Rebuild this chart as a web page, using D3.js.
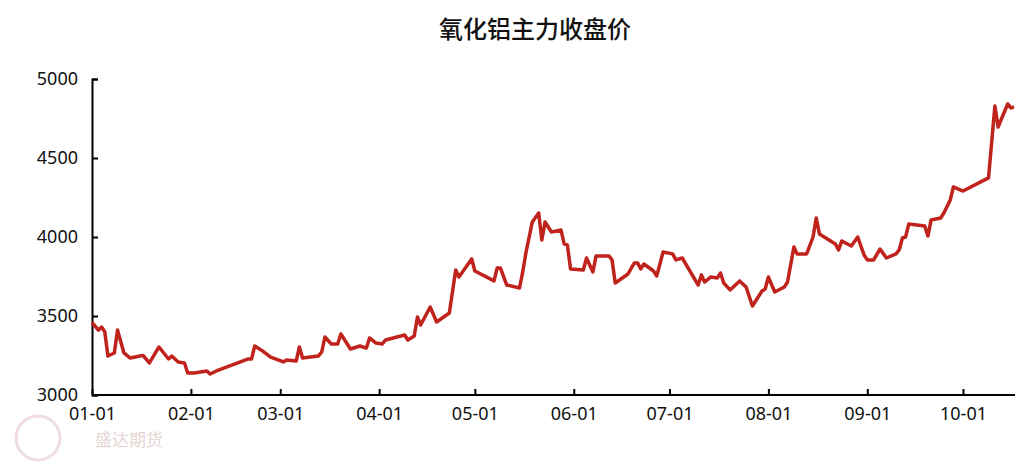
<!DOCTYPE html>
<html><head><meta charset="utf-8">
<script src="https://cdn.jsdelivr.net/npm/d3@7"></script>
<style>body{margin:0;background:#fff}text{font-family:"Noto Sans CJK SC","Noto Sans",sans-serif}</style>
</head><body><svg id="c" width="1026" height="471"></svg>
<script>
// 氧化铝主力收盘价
var dates = ["01-01","01-03","01-04","01-05","01-06","01-08","01-09","01-11","01-13","01-16","01-17","01-19","01-22","01-25","01-26","01-28","01-30","01-31",
"02-02","02-06","02-07","02-09","02-19","02-20","02-21","02-23","02-26","03-02","03-03","03-06","03-07","03-08","03-13","03-14","03-15","03-17","03-19","03-20","03-23","03-26","03-28","03-29","03-31",
"04-02","04-03","04-09","04-10","04-12","04-13","04-14","04-17","04-19","04-23","04-25","04-26","04-30","05-01","05-07","05-08","05-09","05-11","05-15","05-16","05-17","05-19","05-21","05-22","05-23","05-25","05-28","05-29","05-30","05-31",
"06-04","06-05","06-07","06-08","06-12","06-13","06-14","06-18","06-20","06-21","06-22","06-23","06-26","06-27","06-29",
"07-02","07-03","07-05","07-10","07-11","07-12","07-14","07-16","07-17","07-18","07-20","07-23","07-25","07-27","07-30","07-31",
"08-01","08-03","08-06","08-07","08-09","08-10","08-13","08-15","08-16","08-17","08-21","08-22","08-23","08-24","08-27","08-29","08-31",
"09-01","09-03","09-05","09-07","09-10","09-11","09-12","09-13","09-14","09-19","09-20","09-21","09-24","09-25","09-27","09-28",
"10-01","10-09","10-11","10-12","10-15","10-16","10-17"];
var values = [3460,3410,3430,3400,3247,3266,3411,3266,3234,3247,3250,3203,3304,3228,3247,3209,3203,3139,
3139,3152,3133,3152,3228,3228,3310,3285,3240,3209,3222,3215,3304,3234,3247,3272,3367,3323,3323,3386,3291,3310,3297,3361,3329,
3323,3348,3380,3348,3373,3494,3443,3557,3462,3519,3791,3747,3861,3785,3722,3804,3804,3696,3677,3779,3899,4095,4152,3981,4095,4032,4044,3956,3950,3798,
3791,3867,3779,3880,3880,3855,3709,3766,3836,3836,3798,3829,3785,3753,3905,
3893,3855,3867,3696,3760,3715,3747,3741,3772,3709,3665,3722,3684,3563,3658,3671,
3747,3652,3684,3715,3937,3893,3893,4000,4120,4019,3968,3956,3918,3975,3943,4000,3886,
3855,3855,3924,3867,3893,3918,3994,4000,4082,4070,4006,4108,4120,4152,4234,4317,
4291,4374,4829,4696,4842,4817,4823];
var xTicks = ["01-01","02-01","03-01","04-01","05-01","06-01","07-01","08-01","09-01","10-01"];
var yTicks = [3000,3500,4000,4500,5000];

var parse = function(s){ return d3.timeParse("%Y-%m-%d")("2025-" + s); };
var svg = d3.select("#c");
var L = 92, R = 1015, T = 79, B = 395;
var x = d3.scaleTime().domain([parse("01-01"), parse("10-01")]).range([L, 963]);
var y = d3.scaleLinear().domain([3000, 5000]).range([B, T]);

svg.append("text").attr("x", 535).attr("y", 38).attr("text-anchor", "middle")
  .style("font-size", "24px").style("font-weight", "500").attr("fill", "#111").text("氧化铝主力收盘价");

// 水印
svg.append("text").attr("x", 95).attr("y", 446).style("font-size", "17px").attr("fill", "#e6d6d6").text("盛达期货");
svg.append("circle").attr("cx", 38).attr("cy", 438).attr("r", 22).attr("fill", "none").attr("stroke", "#f0dede").attr("stroke-width", 3);

var yAxis = svg.append("g").attr("transform", "translate(" + L + ",0)")
  .call(d3.axisLeft(y).tickValues(yTicks).tickSize(-6).tickPadding(14).tickFormat(d3.format("d")));
var xAxis = svg.append("g").attr("transform", "translate(0," + B + ")")
  .call(d3.axisBottom(x).tickValues(xTicks.map(parse)).tickSize(-6).tickPadding(12).tickFormat(d3.timeFormat("%m-%d")));
[yAxis, xAxis].forEach(function(g){
  g.selectAll("path").attr("stroke", "#000").attr("stroke-width", 2);
  g.selectAll("line").attr("stroke", "#000").attr("stroke-width", 2);
  g.selectAll("text").style("font-size", "18px").attr("fill", "#111").style("font-family", "'Noto Sans',sans-serif");
});
xAxis.select("path").attr("d", "M" + L + ",0H" + R);

var line = d3.line().x(function(d, i){ return x(parse(dates[i])); }).y(function(d){ return y(d); });
svg.append("path").datum(values).attr("d", line).attr("fill", "none")
  .attr("stroke", "#c0221c").attr("stroke-width", 3.5).attr("stroke-linejoin", "round");
</script></body></html>
